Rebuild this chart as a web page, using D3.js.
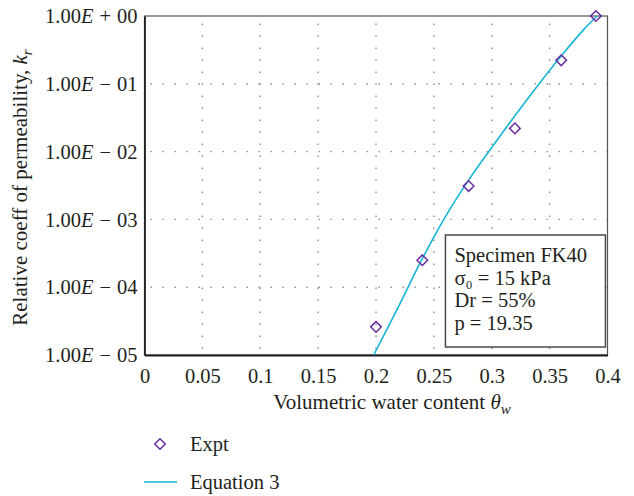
<!DOCTYPE html>
<html>
<head>
	<meta charset="utf-8">
	<title>Relative permeability</title>
	<script src="https://d3js.org/d3.v7.min.js"></script>
	<style>
	body{
		margin: 0;
		background: #ffffff;
	}
	text{
		font-family: "Liberation Serif", "DejaVu Serif", serif;
		fill: #231f20;
	}
	.grid line{
		stroke: #8a8a8a;
		stroke-width: 1.4;
		stroke-dasharray: 1.4 10.6;
	}
	</style>
</head>
<body>
	<div id="chart"></div>

	<script>
		// experimental points
		var exptTheta = [0.20, 0.24, 0.28, 0.32, 0.36, 0.39];
		var exptKr = [2.6e-5, 2.5e-4, 3.1e-3, 2.2e-2, 0.222, 1.0];

		// equation 3 curve
		var eqTheta = [0.198, 0.22, 0.24, 0.26, 0.28, 0.30, 0.32, 0.34, 0.36, 0.38, 0.391];
		var eqKr = [1.0e-5, 5.4e-5, 2.63e-4, 1.10e-3, 3.8e-3, 1.15e-2, 3.39e-2, 9.55e-2, 0.257, 0.646, 1.0];

		var xTicks = [0, 0.05, 0.1, 0.15, 0.2, 0.25, 0.3, 0.35, 0.4];
		var xTickLabels = ["0", "0.05", "0.1", "0.15", "0.2", "0.25", "0.3", "0.35", "0.4"];
		var yTicks = [1, 1e-1, 1e-2, 1e-3, 1e-4, 1e-5];
		var yTickSigns = ["+", "\u2212", "\u2212", "\u2212", "\u2212", "\u2212"];
		var yTickExps = ["00", "01", "02", "03", "04", "05"];

		var boxLines = ["Specimen FK40", "\u03c3\u2080 = 15 kPa", "Dr = 55%", "p = 19.35"];

		var fontSize = "20.5px";

		var margin = {top: 16, right: 26.5, bottom: 141, left: 144.5},
			width = 634 - margin.left - margin.right,
			height = 496 - margin.top - margin.bottom;

		var svg = d3.select("#chart")
			.append("svg")
			.attr("width", 634)
			.attr("height", 496);

		var g = svg.append("g")
			.attr("transform", "translate(" + margin.left + "," + margin.top + ")");

		var x = d3.scaleLinear().domain([0, 0.4]).range([0, width]);
		var y = d3.scaleLog().domain([1e-5, 1]).range([height, 0]);

		// dotted grid
		g.append("g").attr("class", "grid")
			.selectAll("line")
			.data(xTicks.slice(1, -1))
			.enter().append("line")
			.attr("x1", function(d){return x(d);})
			.attr("x2", function(d){return x(d);})
			.attr("y1", height - 6)
			.attr("y2", 0);

		g.append("g").attr("class", "grid")
			.selectAll("line")
			.data(yTicks.slice(1, -1))
			.enter().append("line")
			.attr("x1", 6)
			.attr("x2", width)
			.attr("y1", function(d){return y(d);})
			.attr("y2", function(d){return y(d);});

		// frame
		g.append("rect")
			.attr("width", width)
			.attr("height", height)
			.attr("fill", "none")
			.attr("stroke", "#555")
			.attr("stroke-width", 1.2);

		var xAxis = g.append("g")
			.attr("transform", "translate(0," + height + ")")
			.call(d3.axisBottom(x).tickValues(xTicks).tickSize(0)
				.tickFormat(function(d, i){return xTickLabels[i];}));
		xAxis.select(".domain").attr("stroke", "#231f20").attr("stroke-width", 1.8);
		xAxis.selectAll("text")
			.attr("y", 13)
			.style("font-family", "'Liberation Serif', serif")
			.style("font-size", fontSize)
			.attr("fill", "#231f20");

		var yAxis = g.append("g")
			.call(d3.axisLeft(y).tickValues(yTicks).tickSize(0).tickFormat(""));
		yAxis.select(".domain").attr("stroke", "#231f20").attr("stroke-width", 1.8);

		var yLab = yAxis.selectAll(".tick").append("text")
			.attr("x", -7)
			.attr("dy", "0.33em")
			.attr("text-anchor", "end")
			.style("font-family", "'Liberation Serif', serif")
			.style("font-size", fontSize)
			.attr("fill", "#231f20");
		yLab.append("tspan").text("1.00");
		yLab.append("tspan").style("font-style", "italic").text("E");
		yLab.append("tspan").attr("dx", 6).text(function(d, i){return yTickSigns[i];});
		yLab.append("tspan").attr("dx", 6).text(function(d, i){return yTickExps[i];});

		// axis titles
		var xTitle = svg.append("text")
			.attr("x", margin.left + width / 2 + 16)
			.attr("y", 409)
			.attr("text-anchor", "middle")
			.style("font-size", "21px");
		xTitle.append("tspan").text("Volumetric water content ");
		xTitle.append("tspan").style("font-style", "italic").text("\u03b8");
		xTitle.append("tspan").style("font-style", "italic").style("font-size", "15px").attr("dy", 5).text("w");

		var yTitle = svg.append("text")
			.attr("transform", "translate(27," + (margin.top + height / 2 + 2) + ") rotate(-90)")
			.attr("text-anchor", "middle")
			.style("font-size", "21px");
		yTitle.append("tspan").text("Relative coeff of permeability, ");
		yTitle.append("tspan").style("font-style", "italic").text("k");
		yTitle.append("tspan").style("font-style", "italic").style("font-size", "15px").attr("dy", 5).text("r");

		// equation curve
		var line = d3.line()
			.x(function(d){return x(d[0]);})
			.y(function(d){return y(d[1]);})
			.curve(d3.curveCatmullRom);

		g.append("path")
			.datum(d3.zip(eqTheta, eqKr))
			.attr("d", line)
			.attr("fill", "none")
			.attr("stroke", "#17b4d8")
			.attr("stroke-width", 1.6);

		// experimental diamonds
		var diamond = d3.symbol().type(d3.symbolDiamond2).size(72);
		g.selectAll(".expt")
			.data(d3.zip(exptTheta, exptKr))
			.enter().append("path")
			.attr("class", "expt")
			.attr("transform", function(d){return "translate(" + x(d[0]) + "," + y(d[1]) + ")";})
			.attr("d", diamond)
			.attr("fill", "none")
			.attr("stroke", "#6a2e9c")
			.attr("stroke-width", 1.5);

		// specimen box
		var box = g.append("g").attr("transform", "translate(" + x(0.26) + ",219)");
		box.append("rect")
			.attr("width", 160)
			.attr("height", 112)
			.attr("fill", "#ffffff")
			.attr("stroke", "#4a4a4a")
			.attr("stroke-width", 1.5);
		box.selectAll("text")
			.data(boxLines)
			.enter().append("text")
			.attr("x", 9)
			.attr("y", function(d, i){return 27 + i * 22.7;})
			.style("font-size", fontSize)
			.text(function(d){return d;});

		// legend
		var leg = svg.append("g");
		leg.append("path")
			.attr("transform", "translate(160,444)")
			.attr("d", diamond)
			.attr("fill", "none")
			.attr("stroke", "#6a2e9c")
			.attr("stroke-width", 1.5);
		leg.append("text").attr("x", 190).attr("y", 451).style("font-size", fontSize).text("Expt");
		leg.append("line")
			.attr("x1", 144).attr("x2", 177)
			.attr("y1", 482).attr("y2", 482)
			.attr("stroke", "#17b4d8")
			.attr("stroke-width", 1.6);
		leg.append("text").attr("x", 190).attr("y", 489).style("font-size", fontSize).text("Equation 3");
	</script>
</body>
</html>
